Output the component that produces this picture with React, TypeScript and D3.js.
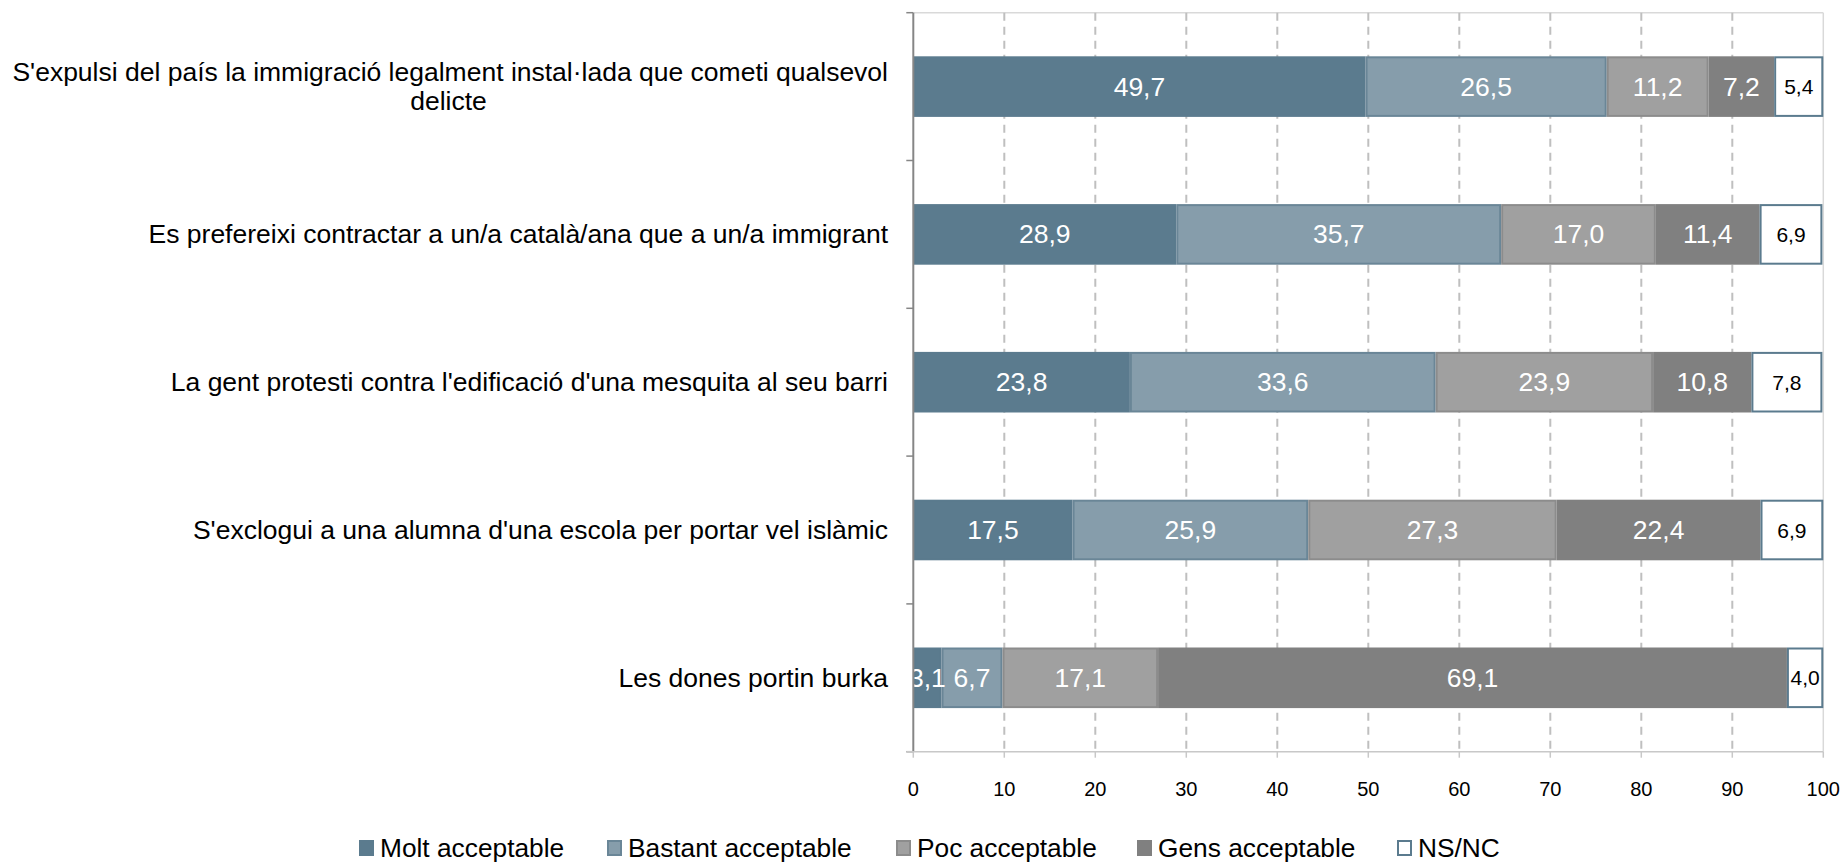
import React from "react";
import * as d3 from "d3";

const categories: string[][] = [
  ["S'expulsi del país la immigració legalment instal·lada que cometi qualsevol", "delicte"],
  ["Es prefereixi contractar a un/a català/ana que a un/a immigrant"],
  ["La gent protesti contra l'edificació d'una mesquita al seu barri"],
  ["S'exclogui a una alumna d'una escola per portar vel islàmic"],
  ["Les dones portin burka"],
];
const seriesNames = ["Molt acceptable", "Bastant acceptable", "Poc acceptable", "Gens acceptable", "NS/NC"];
const molt = [49.7, 28.9, 23.8, 17.5, 3.1];
const bastant = [26.5, 35.7, 33.6, 25.9, 6.7];
const poc = [11.2, 17.0, 23.9, 27.3, 17.1];
const gens = [7.2, 11.4, 10.8, 22.4, 69.1];
const nsnc = [5.4, 6.9, 7.8, 6.9, 4.0];
const xTicks = [0, 10, 20, 30, 40, 50, 60, 70, 80, 90, 100];

const fills = ["#5b7b8e", "#869dab", "#a0a0a0", "#808080", "#ffffff"];
const strokes = ["#5b7b8e", "#6a8697", "#8c8c8c", "#808080", "#5b7b8e"];
const labelColors = ["#ffffff", "#ffffff", "#ffffff", "#ffffff", "#000000"];
const labelSizes = [26.5, 26.5, 26.5, 26.5, 21];

const FONT = "'Liberation Sans', Arial, sans-serif";

export default function App() {
  const W = 1844, H = 865;
  const left = 913.3, right = 1823.3, top = 12.7, bottom = 751.7;
  const x = d3.scaleLinear().domain([0, 100]).range([left, right]);
  const y = d3.scaleBand<number>()
    .domain(categories.map((_, i) => i))
    .range([top, bottom])
    .paddingInner(0.59)
    .paddingOuter(0.295);
  const step = y.step();
  const series = [molt, bastant, poc, gens, nsnc];
  const rows = categories.map((_, i) => series.map(s => s[i]));
  const stack = rows.map(r => {
    let acc = 0;
    return r.map(v => { const s = acc; acc += v; return [s, Math.min(acc, 100)]; });
  });
  const fmt = (v: number) => v.toFixed(1).replace(".", ",");
  const legendX = [359, 607, 896, 1137, 1397];
  const labelRight = 888;
  const labelLeft = 9;

  return (
    <svg width={W} height={H} style={{ position: "absolute", left: 0, top: 0, background: "#fff" }} fontFamily={FONT}>
      <defs>
        <clipPath id="plotclip">
          <rect x={left} y={top} width={right - left} height={bottom - top} />
        </clipPath>
      </defs>
      {/* plot frame */}
      <line x1={left} x2={right} y1={top} y2={top} stroke="#d9d9d9" strokeWidth={1.5} />
      <line x1={right} x2={right} y1={top} y2={bottom} stroke="#d9d9d9" strokeWidth={1.5} />
      {/* gridlines */}
      {xTicks.filter(t => t > 0 && t < 100).map(t => (
        <line key={t} x1={x(t)} x2={x(t)} y1={top} y2={bottom} stroke="#bfbfbf" strokeWidth={2} strokeDasharray="8,6" />
      ))}
      {/* bars */}
      {stack.map((r, i) => (
        <g key={i}>
          {r.map(([a, b], j) => (
            <rect key={j} x={x(a) + 1} y={(y(i) as number) + 1} width={Math.max(0, x(b) - x(a) - 2)}
              height={y.bandwidth() - 2} fill={fills[j]} stroke={strokes[j]} strokeWidth={2} />
          ))}
        </g>
      ))}
      {/* data labels */}
      <g clipPath="url(#plotclip)">
        {stack.map((r, i) => r.map(([a, b], j) => (
          <text key={i + "-" + j} x={(x(a) + x(b)) / 2} y={(y(i) as number) + y.bandwidth() / 2}
            textAnchor="middle" dominantBaseline="central" fontSize={labelSizes[j]} fill={labelColors[j]}>
            {fmt(rows[i][j])}
          </text>
        )))}
      </g>
      {/* left axis */}
      <line x1={left} x2={left} y1={top} y2={bottom} stroke="#868686" strokeWidth={2} />
      {d3.range(categories.length + 1).map(k => (
        <line key={k} x1={left - 7} x2={left} y1={top + k * step} y2={top + k * step} stroke="#868686" strokeWidth={1.5} />
      ))}
      {/* bottom axis */}
      <line x1={left - 7} x2={right} y1={bottom} y2={bottom} stroke="#c8c8c8" strokeWidth={1.5} />
      {xTicks.map(t => (
        <g key={t}>
          <line x1={x(t)} x2={x(t)} y1={bottom} y2={bottom + 6} stroke="#c8c8c8" strokeWidth={1.5} />
          <text x={x(t)} y={796} textAnchor="middle" fontSize={20} fill="#000">{t}</text>
        </g>
      ))}
      {/* category labels */}
      {categories.map((lines, i) => {
        const cy = (y(i) as number) + y.bandwidth() / 2;
        const lh = 29.4;
        return (
          <text key={i} fontSize={26.5} fill="#000">
            {lines.map((ln, k) => (
              <tspan key={k} x={k === 0 ? labelRight : (labelRight + labelLeft) / 2} textAnchor={k === 0 ? "end" : "middle"}
                y={cy + (k - (lines.length - 1) / 2) * lh} dominantBaseline="central">{ln}</tspan>
            ))}
          </text>
        );
      })}
      {/* legend */}
      {seriesNames.map((n, j) => (
        <g key={n}>
          <rect x={legendX[j] + 1} y={841} width={13} height={14} fill={fills[j]} stroke={strokes[j]} strokeWidth={2} />
          <text x={legendX[j] + 21} y={848} dominantBaseline="central" fontSize={26.3} fill="#000">{n}</text>
        </g>
      ))}
    </svg>
  );
}
